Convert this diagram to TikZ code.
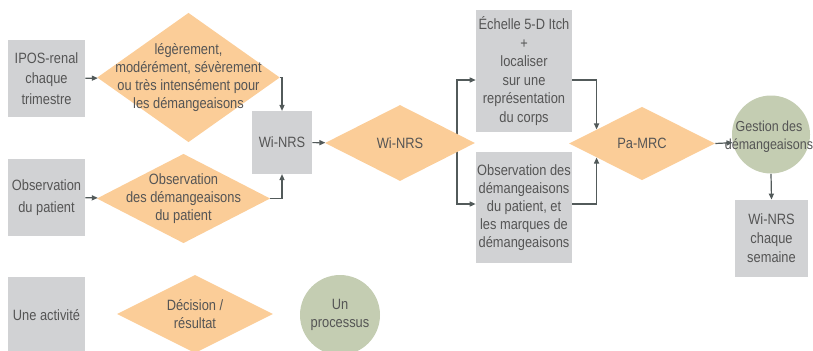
\documentclass[tikz,border=0pt]{standalone}
\usepackage{fontspec}
\setmainfont[FakeStretch=0.86]{Liberation Sans}
\usepackage{tikz}
\usetikzlibrary{shapes.geometric,arrows.meta,calc,backgrounds}
\definecolor{boxgray}{RGB}{209,210,212}
\definecolor{decorange}{RGB}{251,205,152}
\definecolor{procgreen}{RGB}{196,205,178}
\definecolor{txtgray}{RGB}{85,85,85}
\definecolor{linegray}{RGB}{82,90,90}
\tikzstyle{activity} = [rectangle, fill=boxgray, text=txtgray, align=center, inner sep=1pt]
\tikzstyle{decision} = [diamond, fill=decorange, inner sep=0pt]
\tikzstyle{process} = [circle, fill=procgreen, inner sep=0pt]
\tikzstyle{arrow} = [draw=linegray, line width=0.9pt, -{Triangle[length=4.5pt,width=3.8pt]}]

\begin{document}
\begin{tikzpicture}[x=0.75pt, y=-0.75pt, font=\fontsize{11.2}{13.5}\selectfont,
    every label/.style={align=center, text=txtgray}]
    \useasboundingbox (0,0) rectangle (813,350);

    % Left column: inputs
    \node[activity, minimum width=58pt, minimum height=58pt, font=\fontsize{11.2}{15.5}\selectfont] (ipos) at (46.5,78.5) {IPOS-renal\\chaque\\trimestre};
    \node[activity, minimum width=58pt, minimum height=58pt, font=\fontsize{11.2}{16.5}\selectfont] (obs1) at (46.5,197.5) {Observation\\du patient};

    % First decisions
    \node[decision, minimum width=137pt, minimum height=97pt, font=\fontsize{11.2}{12.8}\selectfont,
        label={center:{légèrement,\\modérément, sévèrement\\ou très intensément pour\\les démangeaisons}}] (d1) at (188.5,77.5) {};
    \node[decision, minimum width=130pt, minimum height=67pt,
        label={center:{Observation\\des démangeaisons\\du patient}}] (d2) at (183.5,198.5) {};

    % Wi-NRS
    \node[activity, minimum width=45pt, minimum height=47pt] (wi1) at (282,142.5) {Wi-NRS};
    \node[decision, minimum width=112.5pt, minimum height=57pt, label={center:Wi-NRS}] (d3) at (400,143) {};

    % Itch scale and observation
    \node[activity, minimum width=72pt, minimum height=91.5pt, font=\fontsize{11.2}{13.9}\selectfont] (ech) at (524,71) {Échelle 5-D Itch\\+\\localiser\\sur une\\représentation\\du corps};
    \node[activity, minimum width=72pt, minimum height=83pt] (obs2) at (524,207.5) {Observation des\\démangeaisons\\du patient, et\\les marques de\\démangeaisons};

    % Pa-MRC and management
    \node[decision, minimum width=109.5pt, minimum height=55pt, label={center:Pa-MRC}] (d4) at (642,143.5) {};
    \node[process, minimum size=58.5pt, label={[yshift=-2pt, xshift=-1.5pt, font=\fontsize{10.9}{13.5}\selectfont]center:{Gestion des\\démangeaisons}}] (ges) at (771,134.5) {};
    \node[activity, minimum width=55pt, minimum height=58pt, font=\fontsize{11.2}{14.3}\selectfont] (wi2) at (771.5,238.5) {Wi-NRS\\chaque\\semaine};

    % Legend
    \node[activity, minimum width=58pt, minimum height=58pt] (act) at (46.5,315.5) {Une activité};
    \node[decision, minimum width=117pt, minimum height=58.5pt, label={center:{Décision /\\résultat}}] (dec) at (195,314) {};
    \node[process, minimum size=60pt, label={center:{Un\\processus}}] (proc) at (340,315) {};

    % Connections
    \draw[arrow] (ipos) -- (d1);
    \draw[arrow] (obs1) -- (d2);
    \draw[arrow] (d1.east) -| (wi1.north);
    \draw[arrow] (d2.east) -| (wi1.south);
    \draw[arrow] (wi1) -- (d3);
    \begin{scope}[on background layer]
        \coordinate (split) at (457,143);
        \draw[arrow] (split) |- ($(ech.west)+(0,9)$);
        \draw[arrow] (split) |- ($(obs2.west)+(0,-3.5)$);
    \end{scope}
    \draw[arrow] ($(ech.east)+(0,9)$) -| ($(d4.north)!0.62!(d4.west)$);
    \draw[arrow] ($(obs2.east)+(0,-3.5)$) -| ($(d4.south)!0.62!(d4.west)$);
    \draw[arrow] (d4.east) -- (ges.192);
    \draw[arrow] (ges.south) -- (wi2.north);
\end{tikzpicture}
\end{document}
